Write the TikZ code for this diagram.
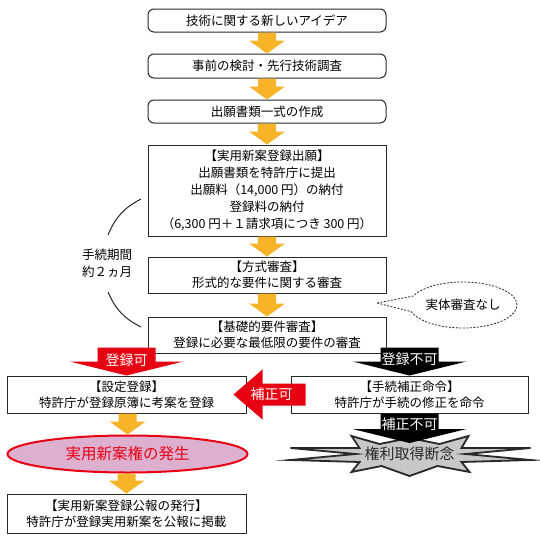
\documentclass[tikz,border=0pt]{standalone}
\usepackage{fontspec}
\setmainfont{Noto Sans CJK JP}
\usetikzlibrary{calc,shapes.geometric,shapes.callouts}
\definecolor{ygold}{RGB}{247,180,40}
\definecolor{kred}{RGB}{230,0,18}
\definecolor{kpink}{RGB}{222,176,208}
\definecolor{kgrey}{RGB}{200,200,200}
\definecolor{kline}{RGB}{40,40,40}
\newcommand\fsz{\fontsize{12.5}{17}\selectfont}
\newcommand\downblock[6]{\fill[#1] let \p1=(#2), \p2=(#3) in
  (\x2-#4,\y1) -- (\x2+#4,\y1) -- (\x2+#4,\y2+#6) -- (\x2+#5,\y2+#6) -- (\x2,\y2)
  -- (\x2-#5,\y2+#6) -- (\x2-#4,\y2+#6) -- cycle;}
\begin{document}
\begin{tikzpicture}[x=1pt,y=-1pt,
  box/.style={draw=kline, line width=1pt, fill=white, inner sep=0pt, align=center, font=\fsz},
  mainbox/.style={box, minimum width=238pt},
  sidebox/.style={box, minimum width=239pt, minimum height=37pt},
  arrowtext/.style={text=white, font=\fontsize{14}{16}\selectfont, inner sep=0pt}]
\useasboundingbox (0,0) rectangle (539,541);

% main column
\node[mainbox, rounded corners=6pt, minimum height=23pt] (b1) at (267,20.5) {技術に関する新しいアイデア};
\node[mainbox, rounded corners=6pt, minimum height=24pt] (b2) at (267,66) {事前の検討・先行技術調査};
\node[mainbox, rounded corners=6pt, minimum height=23pt] (b3) at (267,111.5) {出願書類一式の作成};
\node[mainbox, minimum height=91pt] (b4) at (267,190.5) {【実用新案登録出願】\\出願書類を特許庁に提出\\出願料（14,000 円）の納付\\登録料の納付\\（6,300 円＋１請求項につき 300 円）};
\node[mainbox, minimum height=36pt, font=\fontsize{12.5}{16}\selectfont] (b5) at (267,275) {【方式審査】\\形式的な要件に関する審査};
\node[mainbox, minimum height=36pt, font=\fontsize{12.5}{16}\selectfont] (b6) at (267,335) {【基礎的要件審査】\\登録に必要な最低限の要件の審査};

% side boxes
\node[sidebox, font=\fontsize{12.5}{16}\selectfont] (b7) at (126.5,394.5) {【設定登録】\\特許庁が登録原簿に考案を登録};
\node[sidebox, minimum width=237pt, font=\fontsize{12.5}{16}\selectfont] (b8) at (409.5,394.5) {【手続補正命令】\\特許庁が手続の修正を命令};
\node[ellipse, draw=kred, line width=2pt, fill=kpink, minimum width=240pt, minimum height=37pt, inner sep=0pt, text=kred, font=\fontsize{15.5}{18}\selectfont] (right) at (127.5,454) {実用新案権の発生};
\node[sidebox, minimum height=39pt, font=\fontsize{12.5}{16}\selectfont] (b9) at (126.5,513.5) {【実用新案登録公報の発行】\\特許庁が登録実用新案を公報に掲載};

% yellow arrows
\downblock{ygold}{b1.south}{b2.north}{9pt}{18pt}{13pt}
\downblock{ygold}{b2.south}{b3.north}{9pt}{18pt}{13pt}
\downblock{ygold}{b3.south}{b4.north}{9pt}{18pt}{13pt}
\downblock{ygold}{b4.south}{b5.north}{9pt}{18pt}{13pt}
\downblock{ygold}{b5.south}{b6.north}{9pt}{18pt}{13pt}
\downblock{ygold}{b7.south}{right.north}{9pt}{18pt}{13pt}
\downblock{ygold}{right.south}{b9.north}{9pt}{18pt}{13pt}

% bracket + label
\coordinate (a1) at (141,199);
\coordinate (a2) at (108,235);
\coordinate (a3) at (108,292);
\coordinate (a4) at (141,327);
\draw[kline, line width=1pt] (a1) to[bend right=20] (a2);
\draw[kline, line width=1pt] (a3) to[bend right=20] (a4);
\node[font=\fsz, align=center, inner sep=0pt] (lbl) at (107,263) {手続期間\\約２ヵ月};

% callout
\node[draw=kline, line width=0.8pt, dash pattern=on 2pt off 1.5pt, ellipse callout,
  callout absolute pointer={(377,303)}, callout pointer arc=40,
  minimum width=108pt, minimum height=46pt, inner sep=0pt, font=\fsz] (cl) at (463,305) {実体審査なし};

% burst
\coordinate (bc) at (409.5,454);
\draw[kline, line width=1.8pt, fill=kgrey, line join=miter, miter limit=20]
  ($(bc)+(-58,-18)$) -- ($(bc)+(-30,-10)$) -- ($(bc)+(0,-16)$) -- ($(bc)+(30,-10)$) -- ($(bc)+(59,-18)$)
  -- ($(bc)+(52,-6)$) -- ($(bc)+(121,-6)$) -- ($(bc)+(56,0)$) -- ($(bc)+(121,6)$)
  -- ($(bc)+(52,8)$) -- ($(bc)+(60,18)$) -- ($(bc)+(28,12)$) -- ($(bc)+(0,22)$)
  -- ($(bc)+(-28,12)$) -- ($(bc)+(-58,18)$) -- ($(bc)+(-50,8)$) -- ($(bc)+(-119,6)$)
  -- ($(bc)+(-54,0)$) -- ($(bc)+(-119,-6)$) -- ($(bc)+(-50,-6)$) -- cycle;
\node[inner sep=0pt, text=kline, font=\fontsize{15}{18}\selectfont] (burst) at (bc) {権利取得断念};

% red / black block arrows
\coordinate (s1) at ($(b7.north)+(0,-28)$);
\downblock{kred}{s1}{b7.north}{29pt}{57pt}{14pt}
\node[arrowtext] (t1) at ($(b7.north)+(0,-15)$) {登録可};

\coordinate (s2) at ($(b8.north)+(0,-28)$);
\downblock{black}{s2}{b8.north}{29pt}{57pt}{14pt}
\node[arrowtext] (t2) at ($(b8.north)+(0,-16)$) {登録不可};

\coordinate (bt) at ($(bc)+(0,-11)$);
\downblock{black}{b8.south}{bt}{29pt}{57pt}{14pt}
\node[arrowtext] (t3) at ($(b8.south)+(0,11)$) {補正不可};

\coordinate (hk) at ($(b7.east)+(-13,0)$);
\fill[kred] let \p1=(hk) in (\x1,\y1) -- (\x1+29pt,\y1+25pt) -- (\x1+29pt,\y1+11pt)
  -- (\x1+72pt,\y1+11pt) -- (\x1+72pt,\y1-11pt) -- (\x1+29pt,\y1-11pt) -- (\x1+29pt,\y1-25pt) -- cycle;
\node[arrowtext] (t4) at ($(hk)+(38,0)$) {補正可};
\end{tikzpicture}
\end{document}
